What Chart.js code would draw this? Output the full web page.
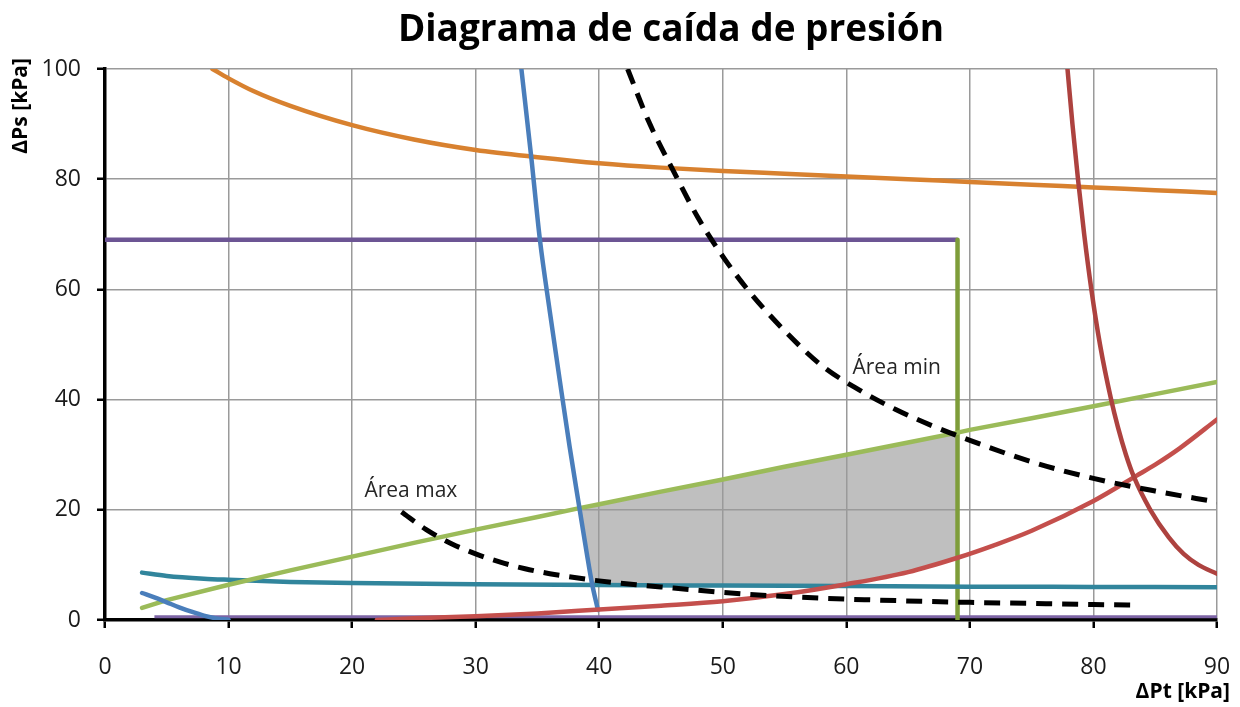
<!DOCTYPE html>
<html>
<head>
<meta charset="utf-8">
<script src="https://cdn.jsdelivr.net/npm/chart.js@4.4.0/dist/chart.umd.min.js"></script>
<style>
  html, body { margin: 0; padding: 0; background: #ffffff; }
  #wrap { width: 1240px; height: 707px; position: relative; }
</style>
</head>
<body>
<div id="wrap"><canvas id="grafico" width="1240" height="707"></canvas></div>
<script>
// Ejes: ΔPt (kPa) en horizontal, ΔPs (kPa) en vertical
const ticksX = [0, 10, 20, 30, 40, 50, 60, 70, 80, 90];
const ticksY = [0, 20, 40, 60, 80, 100];

// Curva naranja (límite superior)
const naranjaX = [8.7, 10, 12, 15, 20, 25, 30, 35, 40, 45, 50, 55, 60, 65, 70, 75, 80, 85, 90];
const naranjaY = [100, 98.3, 96, 93.3, 89.8, 87.2, 85.3, 84, 82.9, 82.1, 81.5, 81, 80.5, 80, 79.5, 79, 78.5, 78, 77.5];

// Curva azul (dos tramos)
const azulX = [33.7, 34.5, 35.2, 36.0, 36.8, 37.6, 38.4, 39.0, 39.4, 39.9];
const azulY = [100, 84, 69, 56, 43.6, 31.5, 20.3, 12, 6.8, 1.8];
const azul2X = [3, 4, 5, 6, 7, 8, 9, 10];
const azul2Y = [4.9, 4.1, 3.2, 2.3, 1.5, 0.8, 0.3, 0.05];

// Recta verde claro
const verdeX = [3, 5, 10, 15, 20, 25, 30, 35, 38.4, 40, 45, 50, 55, 60, 65, 69, 70, 75, 80, 85, 90];
const verdeY = [2.2, 3.6, 6.4, 9.0, 11.5, 14.0, 16.4, 18.7, 20.3, 21.0, 23.3, 25.5, 27.8, 30.0, 32.2, 34.0, 34.5, 36.6, 38.8, 41.0, 43.2];

// Curva turquesa
const turquesaX = [3, 5, 8, 10, 15, 20, 30, 40, 50, 60, 70, 80, 90];
const turquesaY = [8.6, 8.0, 7.5, 7.3, 6.9, 6.7, 6.5, 6.35, 6.25, 6.15, 6.05, 6.0, 5.95];

// Curvas rojas
const rojoX = [22, 25, 30, 35, 40, 45, 50, 55, 60, 65, 69, 72, 75, 80, 83.5, 85, 87, 90];
const rojoY = [0, 0.3, 0.7, 1.2, 1.9, 2.6, 3.4, 4.7, 6.5, 8.7, 11.3, 13.6, 16.2, 21.6, 26.2, 28.2, 31.2, 36.4];
const rojo2X = [77.9, 78.3, 78.75, 79.25, 79.83, 80.53, 81.43, 81.98, 82.63, 83.27, 84.6, 86.1, 87.3, 88.5, 90];
const rojo2Y = [100, 90, 80, 70, 60, 50, 40, 35, 30, 26, 20, 15, 12, 10, 8.4];

// Curvas de área (discontinuas)
const areaMinX = [42.3, 44, 46, 48, 50, 52, 55, 58, 61, 64, 67, 70, 75, 80, 85, 90];
const areaMinY = [100, 90.5, 81.5, 73, 66, 60, 52.5, 46.2, 41.8, 38.2, 35.2, 32.6, 28.7, 25.7, 23.4, 21.4];
const areaMaxX = [24, 26, 28, 30, 32, 34, 36, 38, 40, 43, 46, 50, 54, 58, 62, 66, 70, 75, 80, 83.5];
const areaMaxY = [19.6, 16.4, 13.9, 12.0, 10.5, 9.3, 8.4, 7.7, 7.1, 6.4, 5.8, 5.0, 4.4, 3.95, 3.65, 3.4, 3.2, 3.0, 2.8, 2.7];

// Límites de operación
const moradoX = [0, 69];
const moradoY = [69, 69];
const moradoBajoX = [4, 90];
const moradoBajoY = [0.6, 0.6];
const verticalX = [69, 69];
const verticalY = [69, 0];

// Zona de trabajo sombreada
const zonaX = [38.4, 40, 45, 50, 55, 60, 65, 69, 69, 65, 60, 58.5, 50, 40, 39.4, 39.0];
const zonaY = [20.3, 21.0, 23.3, 25.5, 27.8, 30.0, 32.2, 34.0, 11.3, 8.7, 6.5, 6.2, 6.25, 6.35, 6.8, 12];

const FUENTE = "'Open Sans', 'DejaVu Sans', sans-serif";

const puntos = (xs, ys) => xs.map((x, i) => ({ x: x, y: ys[i] }));

function serie(xs, ys, color, ancho, extra) {
  return Object.assign({
    data: puntos(xs, ys),
    showLine: true,
    borderColor: color,
    backgroundColor: color,
    borderWidth: ancho,
    pointRadius: 0,
    pointHoverRadius: 0,
    fill: false,
    cubicInterpolationMode: 'monotone',
    borderCapStyle: 'round',
    borderJoinStyle: 'round',
    order: 0
  }, extra || {});
}

const recta = { cubicInterpolationMode: 'default', tension: 0, borderCapStyle: 'butt' };

const datasets = [
  serie(areaMinX, areaMinY, '#000000', 5, { borderDash: [16, 10], borderCapStyle: 'butt' }),
  serie(areaMaxX, areaMaxY, '#000000', 5, { borderDash: [16, 10], borderCapStyle: 'butt' }),
  serie(rojo2X, rojo2Y, '#AD423F', 4.5),
  serie(rojoX, rojoY, '#C44F4C', 4.5),
  serie(azulX, azulY, '#4A7EBB', 4.5),
  serie(azul2X, azul2Y, '#4A7EBB', 4.5),
  serie(verdeX, verdeY, '#9BBB59', 4.5, { cubicInterpolationMode: 'default', tension: 0 }),
  serie(turquesaX, turquesaY, '#31859C', 4.5),
  serie(naranjaX, naranjaY, '#D8812F', 4.5),
  serie(verticalX, verticalY, '#7E9D3A', 4.5, recta),
  serie(moradoX, moradoY, '#6C5594', 4.5, recta),
  serie(moradoBajoX, moradoBajoY, '#7D64A5', 3, recta),
  // zona sombreada: sólo aporta los vértices, se rellena bajo la cuadrícula
  { data: puntos(zonaX, zonaY), showLine: false, pointRadius: 0, pointHoverRadius: 0, borderWidth: 0, order: 5 }
];
const IDX_ZONA = datasets.length - 1;

// Relleno gris de la zona de trabajo, dibujado antes que la cuadrícula
const rellenoZona = {
  id: 'rellenoZona',
  beforeDraw(chart) {
    const meta = chart.getDatasetMeta(IDX_ZONA);
    const ctx = chart.ctx;
    ctx.save();
    ctx.beginPath();
    meta.data.forEach((p, i) => { if (i === 0) ctx.moveTo(p.x, p.y); else ctx.lineTo(p.x, p.y); });
    ctx.closePath();
    ctx.fillStyle = '#BFBFBF';
    ctx.fill();
    ctx.restore();
  }
};

// Título, nombres de ejes y rótulos de las curvas de área
const textos = {
  id: 'textos',
  afterDraw(chart) {
    const ctx = chart.ctx;
    const xs = chart.scales.x, ys = chart.scales.y;
    const area = chart.chartArea;
    ctx.save();
    ctx.fillStyle = '#000000';
    ctx.font = "bold 37px " + FUENTE;
    ctx.textAlign = 'center';
    ctx.textBaseline = 'middle';
    ctx.fillText('Diagrama de caída de presión', 671, 30);

    ctx.font = "bold 21px " + FUENTE;
    ctx.textAlign = 'right';
    ctx.fillText('ΔPt [kPa]', area.right + 13, 692);

    ctx.save();
    ctx.translate(21, area.top - 11);
    ctx.rotate(-Math.PI / 2);
    ctx.textAlign = 'right';
    ctx.fillText('ΔPs [kPa]', 0, 0);
    ctx.restore();

    ctx.font = "21px " + FUENTE;
    ctx.fillStyle = '#262626';
    ctx.textAlign = 'left';
    ctx.fillText('Área max', xs.getPixelForValue(21.0), ys.getPixelForValue(23.4));
    ctx.fillText('Área min', xs.getPixelForValue(60.5), ys.getPixelForValue(45.7));
    ctx.restore();
  }
};

new Chart(document.getElementById('grafico'), {
  type: 'scatter',
  data: { datasets: datasets },
  plugins: [rellenoZona, textos],
  options: {
    responsive: false,
    animation: false,
    devicePixelRatio: 1,
    layout: { padding: { left: 0, right: 23, top: 69, bottom: 0 } },
    plugins: { legend: { display: false }, tooltip: { enabled: false }, title: { display: false } },
    scales: {
      x: {
        type: 'linear',
        min: ticksX[0],
        max: ticksX[ticksX.length - 1],
        afterBuildTicks(scale) { scale.ticks = ticksX.map(v => ({ value: v })); },
        afterFit(scale) { scale.height = 87; scale.paddingLeft = 0; scale.paddingRight = 0; },
        ticks: { color: '#1a1a1a', font: { family: FUENTE, size: 23 }, padding: 26, maxRotation: 0, autoSkip: false },
        grid: { color: '#9A9A9A', lineWidth: 1.5, tickColor: '#000000', tickLength: 8, tickWidth: 2.5 },
        border: { color: '#000000', width: 3.5 }
      },
      y: {
        type: 'linear',
        min: ticksY[0],
        max: ticksY[ticksY.length - 1],
        afterBuildTicks(scale) { scale.ticks = ticksY.map(v => ({ value: v })); },
        afterFit(scale) { scale.width = 105; scale.paddingTop = 0; scale.paddingBottom = 0; },
        ticks: { color: '#1a1a1a', font: { family: FUENTE, size: 23 }, padding: 16, autoSkip: false },
        grid: { color: '#9A9A9A', lineWidth: 1.5, tickColor: '#000000', tickLength: 8, tickWidth: 2.5 },
        border: { color: '#000000', width: 3.5 }
      }
    }
  }
});
</script>
</body>
</html>
